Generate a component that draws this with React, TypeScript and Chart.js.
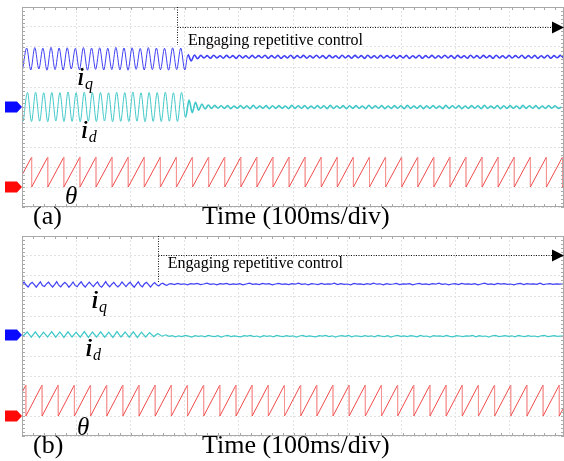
import React, { useEffect, useRef } from 'react';
import { Chart, registerables } from 'chart.js';
Chart.register(...registerables);

// ---------- time axis (ms), 100 ms/div ----------
const X_MAX = 996;
const X_STEP = 100;

// ---------- panel (a) ----------
const SWITCH_A = 285;          // ms, repetitive control engaged
const ARROW_A_Y = 9.0;         // div
const ARROW_A_DROP = 8.1;      // div
const TEXT_A = { x: 305, y: 8.1 };

const IQ_A_PRE_T0 = 1.15, IQ_A_PRE_DT = 7.45;
const iqA_pre = [6.88, 7.95, 6.85, 7.97, 6.9, 7.94, 6.84, 7.98, 6.87, 7.95, 6.85, 7.96, 6.9, 7.93, 6.86, 7.97, 6.84, 7.95, 6.88, 7.96, 6.85, 7.94, 6.87, 7.98, 6.86, 7.95, 6.84, 7.96, 6.88, 7.93, 6.85, 7.97, 6.87, 7.95, 6.86, 7.94, 6.84, 7.96, 6.87, 7.95, 6.85];
const IQ_A_POST_T0 = 305, IQ_A_POST_DT = 5.9;
const iqA_post = [7.62, 7.30, 7.60, 7.42, 7.58, 7.45, 7.57, 7.44, 7.59, 7.45, 7.56, 7.44, 7.58, 7.46, 7.57, 7.43, 7.59, 7.45, 7.56, 7.44,
  7.58, 7.45, 7.57, 7.46, 7.59, 7.44, 7.57, 7.45, 7.58, 7.43, 7.56, 7.45, 7.59, 7.44, 7.57, 7.46, 7.58, 7.44, 7.56, 7.45,
  7.59, 7.45, 7.57, 7.43, 7.58, 7.46, 7.56, 7.44, 7.59, 7.45, 7.57, 7.44, 7.58, 7.46, 7.57, 7.43, 7.59, 7.45, 7.56, 7.44,
  7.58, 7.45, 7.57, 7.46, 7.59, 7.44, 7.57, 7.45, 7.58, 7.43, 7.56, 7.45, 7.59, 7.44, 7.57, 7.46, 7.58, 7.44, 7.56, 7.45,
  7.59, 7.45, 7.57, 7.43, 7.58, 7.46, 7.56, 7.44, 7.59, 7.45, 7.57, 7.44, 7.58, 7.46, 7.57, 7.43, 7.59, 7.45, 7.56, 7.44,
  7.58, 7.45, 7.57, 7.46, 7.59, 7.44, 7.57, 7.45, 7.58, 7.43, 7.56, 7.45, 7.59, 7.44, 7.57, 7.46, 7.58, 7.44];

const ID_A_PRE_T0 = 2.6, ID_A_PRE_DT = 7.45;
const idA_pre = [4.3, 5.72, 4.27, 5.74, 4.29, 5.71, 4.26, 5.73, 4.3, 5.72, 4.27, 5.75, 4.28, 5.71, 4.26, 5.74, 4.29, 5.72, 4.27, 5.73, 4.3, 5.71, 4.26, 5.74, 4.28, 5.72, 4.27, 5.75, 4.29, 5.71, 4.26, 5.73, 4.28, 5.72, 4.27, 5.74, 4.29, 5.71, 4.27, 5.73, 4.48];
const ID_A_POST_T0 = 307, ID_A_POST_DT = 5.9;
const idA_post = [5.35, 4.72, 5.24, 4.84, 5.15, 4.9, 5.1, 4.93, 5.08, 4.94,
  5.06, 4.93, 5.07, 4.92, 5.05, 4.94, 5.07, 4.93, 5.06, 4.92, 5.08, 4.93, 5.05, 4.94, 5.07, 4.92, 5.06, 4.93, 5.07, 4.94,
  5.05, 4.92, 5.08, 4.93, 5.06, 4.94, 5.07, 4.92, 5.05, 4.93, 5.07, 4.94, 5.06, 4.92, 5.08, 4.93, 5.05, 4.94, 5.07, 4.92,
  5.06, 4.93, 5.07, 4.94, 5.05, 4.92, 5.08, 4.93, 5.06, 4.94, 5.07, 4.92, 5.05, 4.93, 5.07, 4.94, 5.06, 4.92, 5.08, 4.93,
  5.05, 4.94, 5.07, 4.92, 5.06, 4.93, 5.07, 4.94, 5.05, 4.92, 5.08, 4.93, 5.06, 4.94, 5.07, 4.92, 5.05, 4.93, 5.07, 4.94,
  5.06, 4.92, 5.08, 4.93, 5.05, 4.94, 5.07, 4.92, 5.06, 4.93, 5.07, 4.94, 5.05, 4.92, 5.08, 4.93, 5.06, 4.94, 5.07, 4.92,
  5.05, 4.93, 5.07, 4.94, 5.06, 4.93, 5.0];

const THETA_A_LO = 1.0, THETA_A_HI = 2.5, THETA_A_START = 1.6, THETA_A_END = 1.14;
const thetaA_resets = [17.8, 47.4, 76.9, 106.5, 136.0, 165.6, 195.2, 224.7, 254.3, 283.8, 313.4, 343.0, 372.5, 402.1, 431.6, 461.2, 490.8, 520.3, 549.9, 579.4, 609.0, 638.6, 668.1, 697.7, 727.2, 756.8, 786.4, 815.9, 845.5, 875.0, 904.6, 934.2, 963.7, 993.3];

const MARK_A_ID = 5.0, MARK_A_THETA = 1.0;

// ---------- panel (b) ----------
const SWITCH_B = 250;
const ARROW_B_Y = 9.05;
const ARROW_B_DROP = 7.65;
const TEXT_B = { x: 268, y: 8.4 };

const IQ_B_PRE_T0 = 0, IQ_B_PRE_DT = 3.75;
const iqB_pre = [7.56, 7.70, 7.55, 7.45, 7.60, 7.68, 7.57, 7.44, 7.58, 7.71, 7.52, 7.47, 7.61, 7.69, 7.56, 7.45,
  7.57, 7.72, 7.54, 7.46, 7.59, 7.68, 7.58, 7.44, 7.56, 7.70, 7.53, 7.46, 7.60, 7.71, 7.55, 7.45,
  7.58, 7.69, 7.57, 7.47, 7.61, 7.70, 7.52, 7.44, 7.57, 7.72, 7.56, 7.46, 7.59, 7.68, 7.54, 7.45,
  7.56, 7.70, 7.58, 7.47, 7.60, 7.69, 7.55, 7.44, 7.58, 7.71, 7.53, 7.46, 7.61, 7.68, 7.57, 7.45,
  7.58, 7.67, 7.56, 7.50, 7.60, 7.64, 7.57, 7.53, 7.60];
const IQ_B_POST_T0 = 274, IQ_B_POST_DT = 6;
const iqB_post = [7.62, 7.57, 7.63, 7.58, 7.61, 7.56, 7.62, 7.59, 7.63, 7.57,
  7.60, 7.64, 7.58, 7.61, 7.56, 7.62, 7.59, 7.63, 7.57, 7.61,
  7.58, 7.62, 7.56, 7.60, 7.64, 7.58, 7.61, 7.57, 7.63, 7.59,
  7.62, 7.56, 7.60, 7.63, 7.58, 7.61, 7.57, 7.62, 7.59, 7.64,
  7.58, 7.61, 7.56, 7.62, 7.60, 7.57, 7.63, 7.58, 7.61, 7.59,
  7.64, 7.57, 7.62, 7.58, 7.60, 7.56, 7.63, 7.59, 7.61, 7.57,
  7.62, 7.58, 7.64, 7.59, 7.61, 7.56, 7.62, 7.58, 7.60, 7.63,
  7.57, 7.61, 7.59, 7.62, 7.56, 7.60, 7.63, 7.58, 7.61, 7.57,
  7.62, 7.59, 7.64, 7.58, 7.61, 7.56, 7.60, 7.62, 7.57, 7.63,
  7.59, 7.61, 7.58, 7.62, 7.56, 7.60, 7.64, 7.58, 7.61, 7.57,
  7.63, 7.59, 7.62, 7.58, 7.60, 7.56, 7.61, 7.63, 7.57, 7.62,
  7.59, 7.61, 7.58, 7.64, 7.57, 7.60, 7.62, 7.58, 7.61, 7.59, 7.60];

const ID_B_PRE_T0 = 2, ID_B_PRE_DT = 7.5;
const idB_pre = [5.0, 5.2, 4.94, 5.21, 4.93, 5.19, 4.95, 5.22, 4.94, 5.2, 4.93, 5.21, 4.95, 5.19, 4.94, 5.22, 4.93, 5.2, 4.95, 5.21, 4.94, 5.19, 4.93, 5.22, 4.95, 5.2, 4.94, 5.21, 4.93, 5.19, 4.95, 5.17, 4.97, 5.12, 4.99, 5.06];
const ID_B_POST_T0 = 270, ID_B_POST_DT = 6;
const idB_post = [4.98, 5.02, 4.96, 5.01, 4.97, 5.03, 4.99, 4.95, 5.02, 4.98,
  5.01, 4.96, 5.03, 4.99, 4.97, 5.02, 4.95, 5.00, 5.03, 4.97,
  5.01, 4.98, 4.96, 5.02, 4.99, 5.03, 4.97, 5.00, 4.95, 5.02,
  4.98, 5.01, 4.96, 5.03, 4.99, 4.97, 5.02, 4.98, 5.01, 4.95,
  5.00, 5.03, 4.97, 5.01, 4.98, 4.96, 5.02, 4.99, 5.03, 4.97,
  5.01, 4.95, 5.00, 5.02, 4.98, 5.03, 4.96, 5.01, 4.99, 4.97,
  5.02, 4.98, 5.01, 4.96, 5.03, 4.99, 4.97, 5.02, 4.95, 5.00,
  5.03, 4.98, 5.01, 4.97, 5.02, 4.99, 4.96, 5.03, 4.98, 5.00,
  4.95, 5.02, 4.99, 5.01, 4.97, 5.03, 4.98, 4.96, 5.02, 5.00,
  4.97, 5.01, 4.99, 5.03, 4.96, 5.02, 4.98, 5.00, 4.95, 5.01,
  5.03, 4.97, 4.99, 5.02, 4.98, 5.01, 4.96, 5.03, 4.99, 4.97,
  5.02, 4.98, 5.00, 4.96, 5.01, 5.03, 4.97, 4.99, 5.02, 4.98, 5.00, 4.99];

const THETA_B_LO = 1.0, THETA_B_HI = 2.55, THETA_B_START = 2.17, THETA_B_END = 1.45;
const thetaB_resets = [7.2, 36.9, 66.6, 96.3, 126.0, 155.7, 185.4, 215.1, 244.8, 274.5, 304.2, 333.9, 363.6, 393.3, 423.0, 452.7, 482.4, 512.1, 541.8, 571.5, 601.2, 630.9, 660.6, 690.3, 720.0, 749.7, 779.4, 809.1, 838.8, 868.5, 898.2, 927.9, 957.6, 987.3];

const MARK_B_ID = 5.05, MARK_B_THETA = 1.0;

// ---------- builders ----------
type P = { x: number; y: number };
const series = (t0: number, dt: number, vals: number[]): P[] => vals.map((v, i) => ({ x: t0 + i * dt, y: v }));
const saw = (start: number, resets: number[], lo: number, hi: number, end: number): P[] => {
  const pts: P[] = [{ x: 0, y: start }];
  resets.forEach((r) => { pts.push({ x: r, y: hi }); pts.push({ x: r, y: lo }); });
  pts.push({ x: X_MAX, y: end });
  return pts;
};

const SERIF = '"Liberation Serif", "Times New Roman", serif';

const scopePlugin = {
  id: 'scope',
  afterDraw(chart: any, _a: any, o: any) {
    const { ctx, chartArea: a } = chart;
    const xs = chart.scales.x, ys = chart.scales.y;
    ctx.save();
    // frame
    ctx.strokeStyle = '#a8a8a8';
    ctx.lineWidth = 1;
    ctx.strokeRect(a.left + 0.5, a.top + 0.5, a.right - a.left - 1, a.bottom - a.top - 1);
    // minor ticks
    ctx.beginPath();
    for (let v = 0; v <= 10.001; v += 0.2) {
      const py = Math.round(ys.getPixelForValue(v)) + 0.5;
      ctx.moveTo(a.left, py); ctx.lineTo(a.left + 3, py);
      ctx.moveTo(a.right, py); ctx.lineTo(a.right - 3, py);
    }
    for (let t = 0; t <= X_MAX; t += 20) {
      const px = Math.round(xs.getPixelForValue(t)) + 0.5;
      ctx.moveTo(px, a.top); ctx.lineTo(px, a.top + 3);
      ctx.moveTo(px, a.bottom); ctx.lineTo(px, a.bottom - 3);
    }
    ctx.stroke();
    // channel markers
    const marker = (lvl: number, color: string) => {
      const py = ys.getPixelForValue(lvl);
      ctx.fillStyle = color;
      ctx.beginPath();
      ctx.moveTo(a.left - 17, py - 5.5);
      ctx.lineTo(a.left - 5, py - 5.5);
      ctx.lineTo(a.left, py);
      ctx.lineTo(a.left - 5, py + 5.5);
      ctx.lineTo(a.left - 17, py + 5.5);
      ctx.closePath();
      ctx.fill();
    };
    marker(o.markId, '#0a0aff');
    marker(o.markTheta, '#ff0808');
    // dotted engage arrow
    const sx = Math.round(xs.getPixelForValue(o.sw)) + 0.5;
    const ay = Math.round(ys.getPixelForValue(o.arrowY)) + 0.5;
    ctx.strokeStyle = '#111';
    ctx.setLineDash([1, 1.5]);
    ctx.beginPath();
    ctx.moveTo(sx, a.top);
    ctx.lineTo(sx, ys.getPixelForValue(o.drop));
    ctx.moveTo(sx, ay);
    ctx.lineTo(a.right - 10, ay);
    ctx.stroke();
    ctx.setLineDash([]);
    ctx.fillStyle = '#000';
    ctx.beginPath();
    ctx.moveTo(a.right, ay);
    ctx.lineTo(a.right - 12, ay - 6);
    ctx.lineTo(a.right - 12, ay + 6);
    ctx.closePath();
    ctx.fill();
    ctx.font = `16px ${SERIF}`;
    ctx.textBaseline = 'alphabetic';
    ctx.textAlign = 'left';
    ctx.fillText('Engaging repetitive control', xs.getPixelForValue(o.text.x), ys.getPixelForValue(o.text.y));
    // signal labels
    o.labels.forEach((l: any) => {
      const px = xs.getPixelForValue(l.x), py = ys.getPixelForValue(l.y);
      ctx.font = `italic ${l.size}px ${SERIF}`;
      ctx.fillStyle = '#000';
      ctx.fillText(l.text, px, py);
      if (l.heavy) ctx.fillText(l.text, px + 0.6, py);
      if (l.sub) {
        const w = ctx.measureText(l.text).width;
        ctx.font = `italic 16px ${SERIF}`;
        ctx.fillText(l.sub, px + w + 1, py + 4);
      }
    });
    // panel caption
    ctx.font = `26px ${SERIF}`;
    ctx.fillText(o.panel, a.left + 11, a.bottom + 17);
    ctx.fillText('Time (100ms/div)', 202, a.bottom + 17);
    ctx.restore();
  },
};

function makeConfig(ds: any[], opts: any, padTop: number, padBottom: number) {
  return {
    type: 'line',
    data: { datasets: ds },
    options: {
      animation: false,
      responsive: false,
      parsing: false,
      normalized: true,
      layout: { padding: { left: 22, top: padTop, right: 0, bottom: padBottom } },
      elements: { point: { radius: 0 } },
      plugins: { legend: { display: false }, tooltip: { enabled: false }, title: { display: false }, scope: opts },
      scales: {
        x: {
          type: 'linear', min: 0, max: X_MAX,
          ticks: { display: false, stepSize: X_STEP },
          grid: { color: '#e2e2e2', drawTicks: false },
          border: { display: false, dash: [2, 2] },
        },
        y: {
          type: 'linear', min: 0, max: 10,
          ticks: { display: false, stepSize: 1 },
          grid: { color: '#e2e2e2', drawTicks: false },
          border: { display: false, dash: [2, 2] },
        },
      },
    },
    plugins: [scopePlugin],
  };
}

const sawSeg = (light: string) => ({
  borderColor: (c: any) => (c.p0.parsed.x === c.p1.parsed.x ? light : undefined),
});
const postWidth = (sw: number) => ({
  borderWidth: (c: any) => (c.p0.parsed.x > sw + 15 ? 1.6 : 1),
});

export default function App() {
  const refA = useRef<HTMLCanvasElement>(null);
  const refB = useRef<HTMLCanvasElement>(null);
  useEffect(() => {
    const dsA = [
      { data: saw(THETA_A_START, thetaA_resets, THETA_A_LO, THETA_A_HI, THETA_A_END), borderColor: '#f04a4a', borderWidth: 1, tension: 0, segment: sawSeg('rgba(245,140,140,0.6)') },
      { data: [...series(ID_A_PRE_T0, ID_A_PRE_DT, idA_pre), ...series(ID_A_POST_T0, ID_A_POST_DT, idA_post)], borderColor: '#40c8c8', borderWidth: 1, cubicInterpolationMode: 'monotone', segment: postWidth(SWITCH_A) },
      { data: [...series(IQ_A_PRE_T0, IQ_A_PRE_DT, iqA_pre), ...series(IQ_A_POST_T0, IQ_A_POST_DT, iqA_post)], borderColor: '#4040f4', borderWidth: 1, cubicInterpolationMode: 'monotone', segment: postWidth(SWITCH_A) },
    ];
    const optsA = {
      panel: '(a)', sw: SWITCH_A, arrowY: ARROW_A_Y, drop: ARROW_A_DROP, text: TEXT_A,
      markId: MARK_A_ID, markTheta: MARK_A_THETA,
      labels: [
        { text: 'i', sub: 'q', x: 101, y: 6.1, size: 25, heavy: true },
        { text: 'i', sub: 'd', x: 108, y: 3.45, size: 25, heavy: true },
        { text: 'θ', x: 79, y: 0.15, size: 25 },
      ],
    };
    const dsB = [
      { data: saw(THETA_B_START, thetaB_resets, THETA_B_LO, THETA_B_HI, THETA_B_END), borderColor: '#f04a4a', borderWidth: 1, tension: 0, segment: sawSeg('rgba(245,140,140,0.6)') },
      { data: [...series(ID_B_PRE_T0, ID_B_PRE_DT, idB_pre), ...series(ID_B_POST_T0, ID_B_POST_DT, idB_post)], borderColor: '#40c8c8', borderWidth: 1.2, tension: 0 },
      { data: [...series(IQ_B_PRE_T0, IQ_B_PRE_DT, iqB_pre), ...series(IQ_B_POST_T0, IQ_B_POST_DT, iqB_post)], borderColor: '#4040f4', borderWidth: 1.2, tension: 0 },
    ];
    const optsB = {
      panel: '(b)', sw: SWITCH_B, arrowY: ARROW_B_Y, drop: ARROW_B_DROP, text: TEXT_B,
      markId: MARK_B_ID, markTheta: MARK_B_THETA,
      labels: [
        { text: 'i', sub: 'q', x: 127, y: 6.4, size: 25, heavy: true },
        { text: 'i', sub: 'd', x: 116, y: 4.0, size: 25, heavy: true },
        { text: 'θ', x: 101, y: 0.05, size: 25 },
      ],
    };
    const cA = new Chart(refA.current as HTMLCanvasElement, makeConfig(dsA, optsA, 7, 23) as any);
    const cB = new Chart(refB.current as HTMLCanvasElement, makeConfig(dsB, optsB, 6, 25) as any);
    return () => { cA.destroy(); cB.destroy(); };
  }, []);
  return (
    <div style={{ position: 'fixed', left: 0, top: 0, width: 564, height: 461, background: '#fff' }}>
      <canvas ref={refA} width={564} height={230} style={{ position: 'absolute', left: 0, top: 0 }} />
      <canvas ref={refB} width={564} height={231} style={{ position: 'absolute', left: 0, top: 230 }} />
    </div>
  );
}
